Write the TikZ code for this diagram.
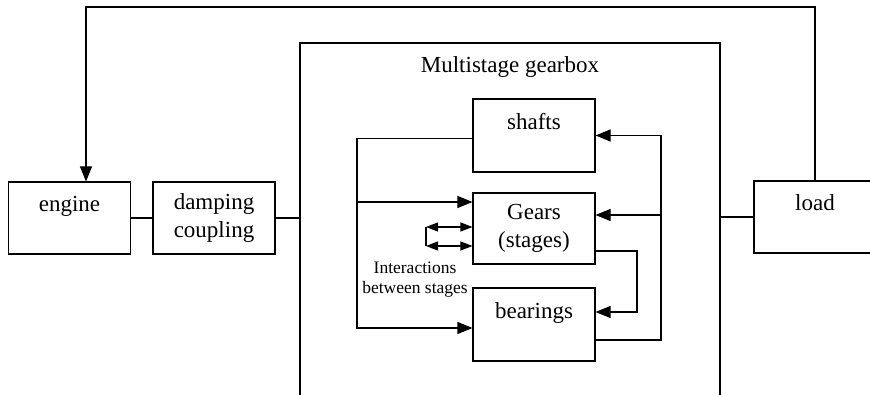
\documentclass[tikz,border=0pt]{standalone}
\usepackage{fontspec}
\setmainfont{Liberation Serif}
\usetikzlibrary{arrows.meta}

\begin{document}
\begin{tikzpicture}[x=1pt,y=-1pt,>={Triangle[length=15pt,width=12pt]},line width=1.1pt,
                    auto]
\tikzstyle{block}=[draw=black,rectangle,minimum width=122pt,minimum height=72pt,inner sep=0pt,align=center]
\tikzstyle{smalltext}=[font=\fontsize{17.5pt}{20pt}\selectfont,align=center]
\tikzset{font=\fontsize{23pt}{28pt}\selectfont}

        \clip (0,0) rectangle (870,395);

        % outside the gearbox
        \node[block]                        (engine)   at (69.5,218)          {engine\\~};
        \node[block]                        (damp)     [right of=engine, node distance=144.5pt] {damping\\coupling};
        \node[block]                        (load)     at (815,217)           {load\\~};

        % the gearbox itself, open at the bottom
        \node[block, minimum width=420pt, minimum height=380pt]  (gbox)  at (510,233) {};
        \node                               (gbtitle)  at (510,67)            {Multistage gearbox};

        \node[block, minimum height=73pt]   (shafts)   at (534,135.5)         {shafts\\~};
        \node[block, minimum height=71pt]   (gears)    [below of=shafts, node distance=93pt] {Gears\\(stages)};
        \node[block, minimum height=73pt]   (bear)     [below of=gears, node distance=96pt]  {bearings\\~};

        \node[smalltext]                    (inter)    at (415,280)           {Interactions\\between stages};

        \coordinate (top)  at (86,7);
        \coordinate (lbus) at (357,328);
        \coordinate (gin)  at (357,202);
        \coordinate (ia)   at (426,227);
        \coordinate (ib)   at (426,246);
        \coordinate (rbus) at (661,340);
        \coordinate (gr)   at (661,215);
        \coordinate (gout) at (637,251);
        \coordinate (bin)  at (637,312);

        % load back to engine
        \draw[->] (load.north) |- (top) -- (top |- engine.north);
        \draw (engine.east) -- (damp.west);
        \draw (damp.east) -- (damp.east -| gbox.west);
        \draw (load.west) -- (load.west -| gbox.east);

        % left side
        \draw[->] ([yshift=-3pt]shafts.west) -| (lbus) -- (lbus -| bear.west);
        \draw[->] (gin) -- (gin -| gears.west);
        \draw (ia) -- (ib);
        \draw[<->,>={Triangle[length=12pt,width=9pt]}] (ia) -- (ia -| gears.west);
        \draw[<->,>={Triangle[length=12pt,width=9pt]}] (ib) -- (ib -| gears.west);

        % right side
        \draw[->] (bear.east |- rbus) -| (rbus |- shafts.east) -- (shafts.east);
        \draw[->] (gr) -- (gr -| gears.east);
        \draw[->] (gout -| gears.east) -- (gout) -- (bin) -- (bin -| bear.east);

\end{tikzpicture}
\end{document}
